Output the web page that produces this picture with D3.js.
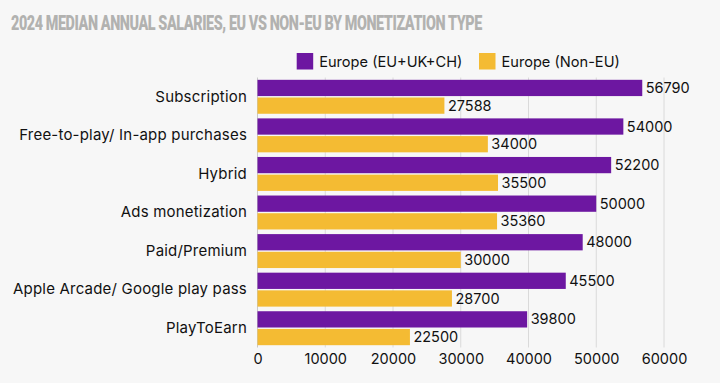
<!DOCTYPE html>
<html>
<head>
<meta charset="utf-8">
<script src="https://cdn.jsdelivr.net/npm/d3@7"></script>
<style>
  html, body { margin: 0; padding: 0; background: #f7f7f7; }
  svg { display: block; }
</style>
</head>
<body>
<svg id="chart" width="720" height="383"></svg>
<script>
const categories = ["Subscription", "Free-to-play/ In-app purchases", "Hybrid", "Ads monetization", "Paid/Premium", "Apple Arcade/ Google play pass", "PlayToEarn"];
const seriesNames = ["Europe (EU+UK+CH)", "Europe (Non-EU)"];
const euValues = [56790, 54000, 52200, 50000, 48000, 45500, 39800];
const nonEuValues = [27588, 34000, 35500, 35360, 30000, 28700, 22500];
const xTicks = [0, 10000, 20000, 30000, 40000, 50000, 60000];
const colors = ["#6d17a1", "#f4bb33"];
const titleText = "2024 MEDIAN ANNUAL SALARIES, EU VS NON-EU BY MONETIZATION TYPE";

const svg = d3.select("#chart");
const W = 720, H = 383;
svg.append("rect").attr("width", W).attr("height", H).attr("fill", "#f7f7f7");

const font = "Inter, 'Noto Sans', sans-serif";
const plot = { left: 257.5, right: 664, top: 77.5, bottom: 347.5 };

const x = d3.scaleLinear().domain([0, 60000]).range([plot.left, plot.right]);
const y0 = d3.scaleBand().domain(categories).range([plot.top, plot.bottom]).paddingInner(0.12).paddingOuter(0.06);
const y1 = d3.scaleBand().domain([0, 1]).range([0, y0.bandwidth()]).paddingInner(0.08);

// Title (horizontally condensed to match the reference's tight bold face)
const titleG = svg.append("g");
const title = titleG.append("text")
  .attr("x", 0).attr("y", 0)
  .attr("font-family", "Roboto, Inter, sans-serif")
  .attr("font-weight", 900).attr("font-size", 21)
  .attr("letter-spacing", -0.6)
  .attr("fill", "#b2b2b0")
  .text(titleText);
{
  const target = 471;
  const natural = title.node().getComputedTextLength();
  const sx = target / natural;
  titleG.attr("transform", `translate(11,29.5) scale(${sx},1)`);
}

// Legend
const legendX = [296.7, 479];
seriesNames.forEach((name, i) => {
  const g = svg.append("g").attr("transform", `translate(${legendX[i]},53)`);
  g.append("rect").attr("width", 16.5).attr("height", 16.5).attr("fill", colors[i]);
  g.append("text").attr("x", 22.5).attr("y", 8.5).attr("dy", "0.35em")
    .attr("font-family", font).attr("font-size", 14.6).attr("fill", "#111")
    .text(name);
});

// Gridlines
svg.append("g").selectAll("line").data(xTicks).join("line")
  .attr("x1", d => x(d)).attr("x2", d => x(d))
  .attr("y1", plot.top).attr("y2", plot.bottom)
  .attr("stroke", d => d === 0 ? "#c8c8c8" : "#dadada").attr("stroke-width", 1);

// X axis
const xAxis = d3.axisBottom(x).tickValues(xTicks).tickSize(0).tickPadding(0).tickFormat(d3.format("d"));
const xg = svg.append("g").attr("transform", `translate(0,${plot.bottom})`).call(xAxis);
xg.select(".domain").remove();
xg.selectAll("text").attr("font-family", font).attr("font-size", 14.5).attr("fill", "#111")
  .attr("y", 11.5).attr("dy", "0.35em");

// Y axis labels
const yAxis = d3.axisLeft(y0).tickSize(0).tickPadding(10.5);
const yg = svg.append("g").attr("transform", `translate(${plot.left},0)`).call(yAxis);
yg.select(".domain").remove();
yg.selectAll("text").attr("font-family", font).attr("font-size", 15).attr("letter-spacing", 0.2).attr("fill", "#111");

// Bars
const rows = categories.map((c, i) => ({ cat: c, vals: [euValues[i], nonEuValues[i]] }));
const groups = svg.append("g").selectAll("g").data(rows).join("g")
  .attr("transform", d => `translate(0,${y0(d.cat)})`);

groups.selectAll("rect").data(d => d.vals.map((v, k) => ({ v, k }))).join("rect")
  .attr("x", x(0))
  .attr("y", d => y1(d.k))
  .attr("width", d => x(d.v) - x(0))
  .attr("height", y1.bandwidth())
  .attr("fill", d => colors[d.k]);

groups.selectAll("text").data(d => d.vals.map((v, k) => ({ v, k }))).join("text")
  .attr("x", d => x(d.v) + 3.5)
  .attr("y", d => y1(d.k) + y1.bandwidth() / 2)
  .attr("dy", "0.35em")
  .attr("font-family", font).attr("font-size", 14.5).attr("fill", "#111")
  .text(d => d.v);
</script>
</body>
</html>
